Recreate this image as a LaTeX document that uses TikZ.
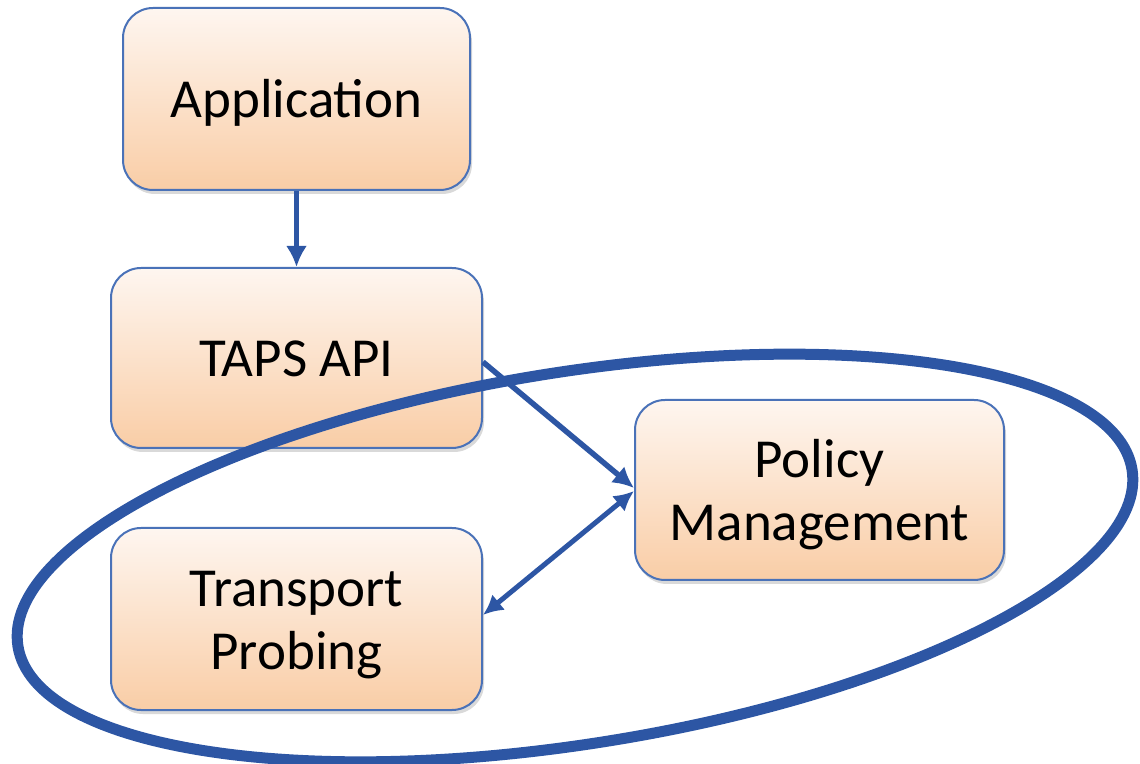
\documentclass[tikz,border=0pt]{standalone}
\usepackage{fontspec}
\setmainfont{Carlito}
\usetikzlibrary{arrows.meta,shadows}
\definecolor{edgeblue}{HTML}{2D56A4}
\definecolor{boxline}{HTML}{4A72B8}
\definecolor{boxtop}{HTML}{FEF6F0}
\definecolor{boxbot}{HTML}{F9CDA6}
\newcommand{\boxtext}[1]{\raisebox{-6pt}[\height][\depth]{\begin{tabular}{@{}c@{}}#1\end{tabular}}}
\tikzset{
  layerbox/.style={draw=boxline, line width=2pt, rounded corners=30pt,
    top color=boxtop, bottom color=boxbot, align=center,
    font=\fontsize{55}{63}\selectfont, inner sep=0pt,
    drop shadow={opacity=0.3, shadow xshift=2pt, shadow yshift=-4pt}},
  flow/.style={draw=edgeblue, line width=5.5pt, -{Latex[length=21pt,width=21pt]}},
  biflow/.style={draw=edgeblue, line width=5pt, {Latex[length=20pt,width=20pt]}-{Latex[length=20pt,width=20pt]}},
  group/.style={draw=edgeblue, line width=11pt}
}
\begin{document}
\begin{tikzpicture}[x=1pt,y=1pt]
\useasboundingbox (0,0) rectangle (1140,763);
\node[layerbox, minimum width=347pt, minimum height=182pt] (app) at (296.5,664) {\boxtext{Application}};
\node[layerbox, minimum width=371pt, minimum height=180pt] (taps) at (296.5,405) {\boxtext{TAPS API}};
\node[layerbox, minimum width=369pt, minimum height=180pt] (pm) at (819.5,273) {\boxtext{Policy\\Management}};
\node[layerbox, minimum width=371pt, minimum height=182pt] (tp) at (296.5,144) {\boxtext{Transport\\Probing}};
\draw[flow] (app.south) -- (taps.north);
\draw[flow] ([yshift=-4pt]taps.east) -- ([yshift=2pt]pm.west);
\draw[biflow] ([yshift=4pt]tp.east) -- ([yshift=-1pt]pm.west);
\coordinate (gc) at (575,205);
\draw[group, rotate around={9:(gc)}] (gc) ellipse [x radius=564, y radius=186];
\end{tikzpicture}
\end{document}
